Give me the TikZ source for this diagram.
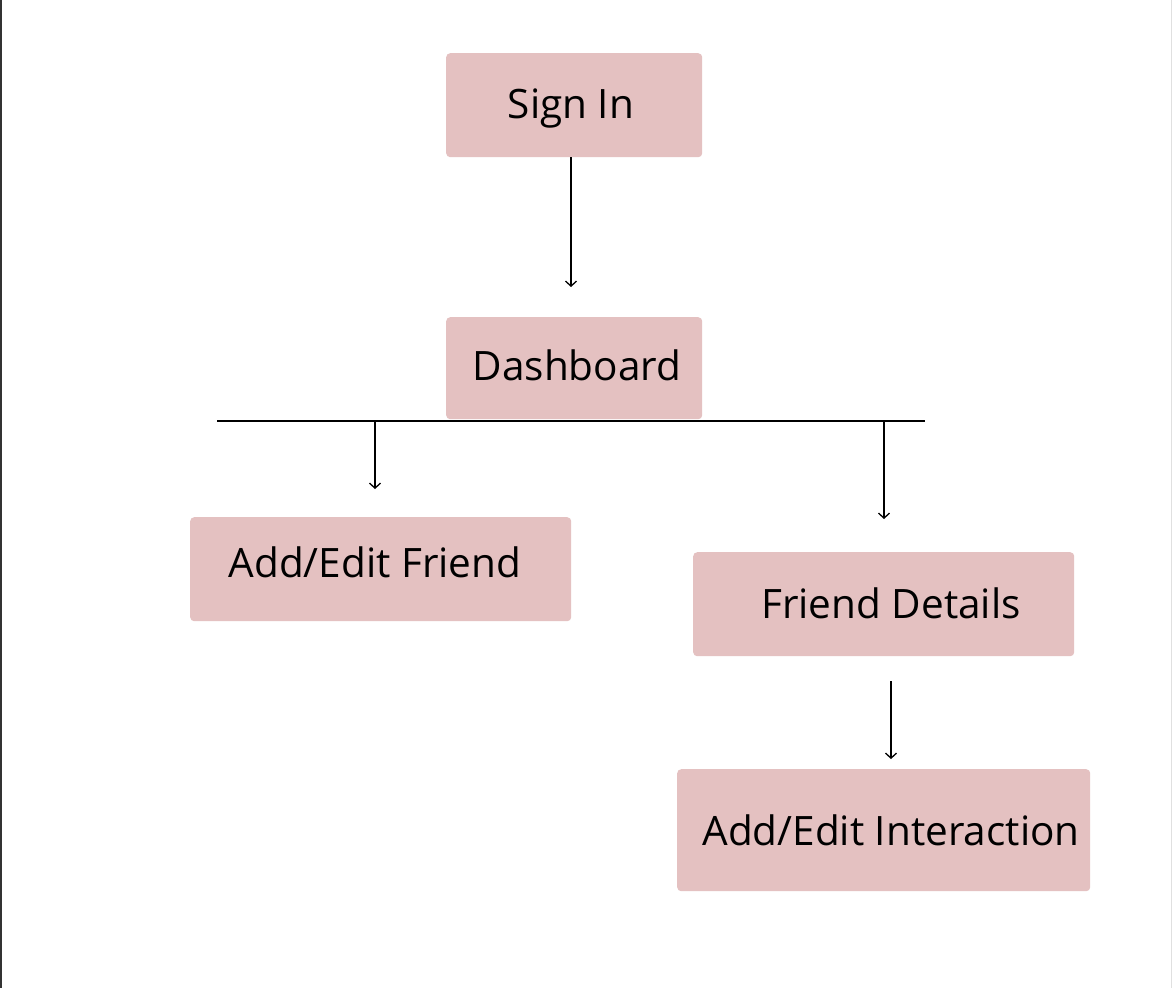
\documentclass[tikz,border=0pt]{standalone}
\usepackage{fontspec}
\setmainfont{Open Sans}
\usetikzlibrary{arrows.meta}
\definecolor{boxpink}{HTML}{E4C1C1}
\tikzset{
  box/.style={fill=boxpink, rounded corners=4pt, inner sep=0pt, anchor=north west},
  lbl/.style={font=\fontsize{40.5}{48}\selectfont, text=black, inner sep=0pt, anchor=base},
  conn/.style={line width=1.3pt, draw=black},
  arr/.style={conn, -{Straight Barb[length=5pt,width=11pt,line width=1.3pt]}},
}
\begin{document}
\begin{tikzpicture}[x=1pt,y=-1pt]
\useasboundingbox (0,0) rectangle (1172,988);
\fill[white] (0,0) rectangle (1172,988);
\draw[line width=1.5pt, draw=black!80] (0.75,0) -- (0.75,988);
\draw[line width=1.2pt, draw=black!12] (1171.4,0) -- (1171.4,988);
% boxes
\node[box, minimum width=256pt, minimum height=104pt] (signin) at (446,53) {};
\node[box, minimum width=256pt, minimum height=102pt] (dash) at (446,317) {};
\node[box, minimum width=381pt, minimum height=104pt] (addf) at (190,517) {};
\node[box, minimum width=381pt, minimum height=104pt] (fdet) at (693,552) {};
\node[box, minimum width=413pt, minimum height=122pt] (addi) at (677,769) {};
% labels
\node[lbl] (tsignin) at (571,118) {Sign In};
\node[lbl] (tdash) at (577,380) {Dashboard};
\node[lbl] (taddf) at (375,577) {Add/Edit Friend};
\node[lbl] (tfdet) at (891,618) {Friend Details};
\node[lbl] (taddi) at (891,845) {Add/Edit Interaction};
% connector coordinates
\coordinate (a1) at (571,287);
\coordinate (hl) at (217,421);
\coordinate (hr) at (925,421);
\coordinate (b1s) at (375,421);
\coordinate (b1e) at (375,489);
\coordinate (b2s) at (884,421);
\coordinate (b2e) at (884,519);
\coordinate (c1s) at (891,681);
\coordinate (c1e) at (891,759);
\draw[arr] (signin.south -| a1) -- (a1);
\draw[conn] (hl) -- (hr);
\draw[arr] (b1s) -- (b1e);
\draw[arr] (b2s) -- (b2e);
\draw[arr] (c1s) -- (c1e);
\end{tikzpicture}
\end{document}
